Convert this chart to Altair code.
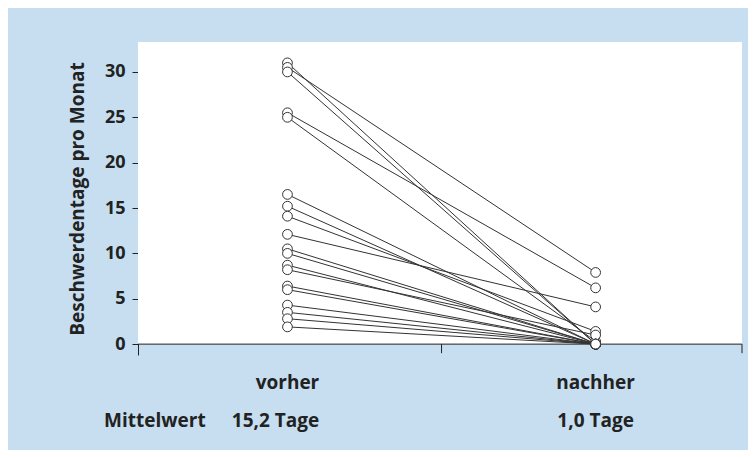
import altair as alt
import pandas as pd

# Beschwerdentage pro Monat je Patient: vorher / nachher
vorher  = [31.0, 30.5, 30.0, 25.5, 25.0, 16.5, 15.2, 14.1, 12.1, 10.5, 10.0,
           8.7, 8.2, 6.4, 6.0, 4.3, 3.5, 2.8, 1.9]
nachher = [0.0, 7.9, 0.0, 6.2, 0.3, 0.0, 0.0, 1.4, 4.1, 0.0, 0.0,
           0.0, 1.0, 0.0, 0.0, 0.0, 0.0, 0.0, 0.0]
phasen = ["vorher", "nachher"]
phase_pos = [1, 3]
mittelwerte = ["15,2 Tage", "1,0 Tage"]
y_ticks = [0, 5, 10, 15, 20, 25, 30]

rows = []
for i, (a, b) in enumerate(zip(vorher, nachher)):
    rows.append({"id": i, "x": phase_pos[0], "y": a})
    rows.append({"id": i, "x": phase_pos[1], "y": b})
df = pd.DataFrame(rows)

XD = [0.03, 3.95]
YD = [-1.2, 33.3]
xs = alt.Scale(domain=XD, nice=False, zero=False)
ys = alt.Scale(domain=YD, nice=False, zero=False)
FONT = "Open Sans"
INK = "#222222"

panel = alt.Chart(pd.DataFrame({"x": [XD[0]], "x2": [XD[1]], "y": [0], "y2": [YD[1]]})).mark_rect(
    color="white").encode(
    x=alt.X("x:Q", scale=xs, axis=None), x2="x2:Q",
    y=alt.Y("y:Q", scale=ys, axis=alt.Axis(
        values=y_ticks, title="Beschwerdentage pro Monat", grid=False,
        domainColor=INK, tickColor=INK, tickSize=6, labelFont=FONT, labelFontSize=18,
        labelFontWeight="bold", labelColor=INK, labelPadding=7, titleFont=FONT,
        titleFontSize=19, titleFontWeight="bold", titleColor=INK, titlePadding=17)),
    y2="y2:Q")

xaxis = alt.Chart(pd.DataFrame({"x": [XD[0]], "x2": [XD[1]], "y": [0]})).mark_rule(
    color=INK, strokeWidth=1).encode(
    x=alt.X("x:Q", scale=xs), x2="x2:Q", y=alt.Y("y:Q", scale=ys))

xticks = alt.Chart(pd.DataFrame({"x": [2, XD[1]], "y": [0, 0], "y2": [-1.0, -1.0]})).mark_rule(
    color=INK, strokeWidth=1).encode(
    x=alt.X("x:Q", scale=xs), y=alt.Y("y:Q", scale=ys), y2="y2:Q")

lines = alt.Chart(df).mark_line(color="#333333", strokeWidth=1).encode(
    x=alt.X("x:Q", scale=xs), y=alt.Y("y:Q", scale=ys), detail="id:N")

points = alt.Chart(df).mark_point(
    shape="circle", size=95, filled=False, fill="white", fillOpacity=1,
    stroke="#333333", strokeWidth=1, opacity=1).encode(
    x=alt.X("x:Q", scale=xs), y=alt.Y("y:Q", scale=ys))

TXT = dict(font=FONT, fontSize=19, fontWeight="bold", color=INK, baseline="middle")

lab_df = pd.DataFrame({"x": phase_pos, "t": phasen, "y": [-4.3, -4.3]})
labels = alt.Chart(lab_df).mark_text(**TXT).encode(
    x=alt.X("x:Q", scale=xs), y=alt.Y("y:Q", scale=ys), text="t:N")

mw_df = pd.DataFrame({"x": phase_pos, "t": mittelwerte, "y": [-8.5, -8.5]})
mw_vor = alt.Chart(mw_df.iloc[[0]]).mark_text(dx=-12, **TXT).encode(
    x=alt.X("x:Q", scale=xs), y=alt.Y("y:Q", scale=ys), text="t:N")
mw_nach = alt.Chart(mw_df.iloc[[1]]).mark_text(**TXT).encode(
    x=alt.X("x:Q", scale=xs), y=alt.Y("y:Q", scale=ys), text="t:N")

mw_title = alt.Chart(pd.DataFrame({"x": [-0.19], "y": [-8.5], "t": ["Mittelwert"]})).mark_text(
    align="left", **TXT).encode(
    x=alt.X("x:Q", scale=xs), y=alt.Y("y:Q", scale=ys), text="t:N")

chart = alt.layer(panel, xaxis, xticks, lines, points, labels, mw_vor, mw_nach, mw_title).properties(
    width=604, height=313,
    autosize=alt.AutoSizeParams(type="none"),
    padding={"left": 130, "top": 34, "right": 6, "bottom": 95},
    background="#c6def0",
).configure_view(stroke=None)

chart.save("out.html", embed_options={"renderer": "svg", "actions": False})
